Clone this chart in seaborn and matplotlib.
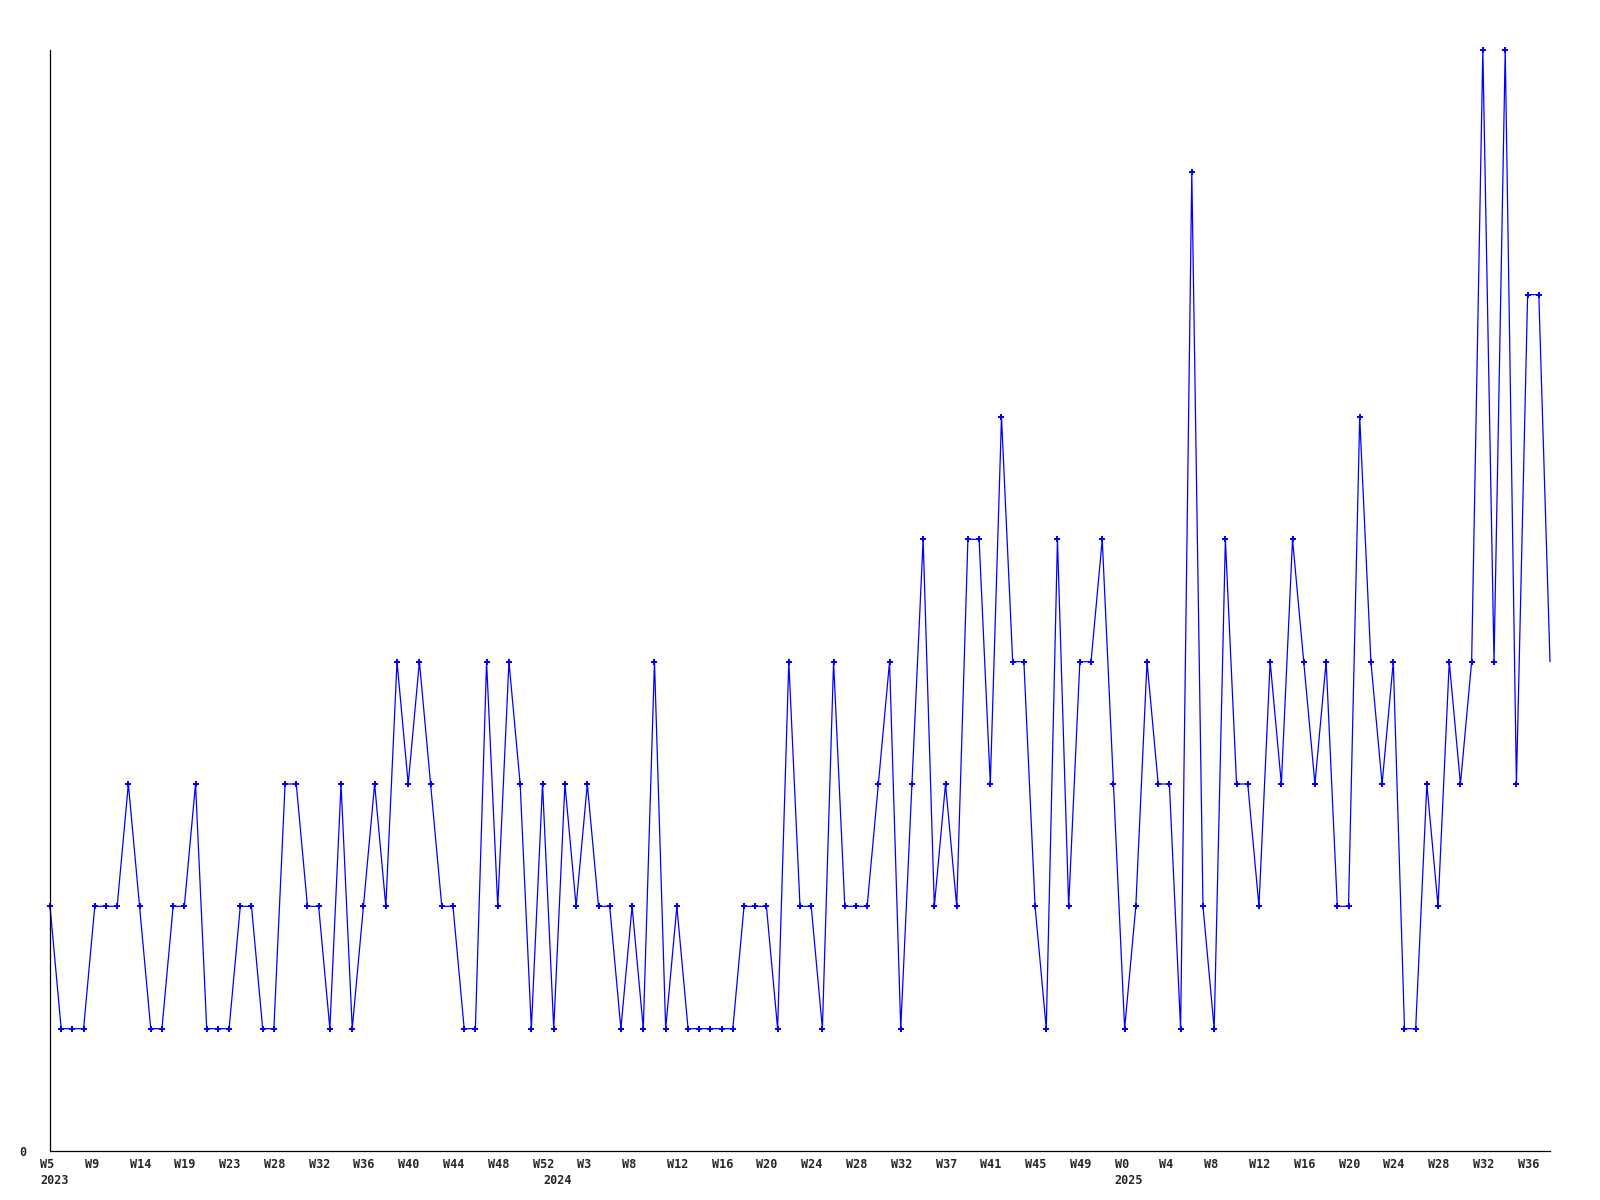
import numpy as np
import matplotlib
matplotlib.use("Agg")
import matplotlib.pyplot as plt
import seaborn as sns

# weekly counts, one point per week
counts = [2, 1, 1, 1, 2, 2, 2, 3, 2, 1, 1, 2, 2, 3, 1, 1, 1, 2, 2, 1,
          1, 3, 3, 2, 2, 1, 3, 1, 2, 3, 2, 4, 3, 4, 3, 2, 2, 1, 1, 4,
          2, 4, 3, 1, 3, 1, 3, 2, 3, 2, 2, 1, 2, 1, 4, 1, 2, 1, 1, 1,
          1, 1, 2, 2, 2, 1, 4, 2, 2, 1, 4, 2, 2, 2, 3, 4, 1, 3, 5, 2,
          3, 2, 5, 5, 3, 6, 4, 4, 2, 1, 5, 2, 4, 4, 5, 3, 1, 2, 4, 3,
          3, 1, 8, 2, 1, 5, 3, 3, 2, 4, 3, 5, 4, 3, 4, 2, 2, 6, 4, 3,
          4, 1, 1, 3, 2, 4, 3, 4, 9, 4, 9, 3, 7, 7, 4]

week_labels = ["W5", "W9", "W14", "W19", "W23", "W28", "W32", "W36", "W40",
               "W44", "W48", "W52", "W3", "W8", "W12", "W16", "W20", "W24",
               "W28", "W32", "W37", "W41", "W45", "W49", "W0", "W4", "W8",
               "W12", "W16", "W20", "W24", "W28", "W32", "W36"]
year_labels = ["2023", "2024", "2025"]
year_pos = [0, 45, 96]

x = np.arange(len(counts))
tick_pos = np.arange(0, len(week_labels) * 4, 4)

sns.set_style("white")
fig = plt.figure(figsize=(16, 12), dpi=100)
ax = fig.add_axes([50 / 1600, 49 / 1200, 1500 / 1600, 1101 / 1200])

# the last (current) week is drawn without a marker
sns.lineplot(x=x, y=counts, ax=ax, color="#0000ff", linewidth=0.9,
             marker="P", markersize=4.2, markeredgewidth=0,
             markerfacecolor="#0000ff", clip_on=False,
             markevery=list(range(len(counts) - 1)))

ax.set_xlim(0, len(counts) - 1)
ax.set_ylim(0, max(counts))

for s in ["top", "right"]:
    ax.spines[s].set_visible(False)
for s in ["left", "bottom"]:
    ax.spines[s].set_color("black")
    ax.spines[s].set_linewidth(0.9)

font = dict(family="DejaVu Sans Mono", weight="bold", size=8.5)

ax.set_xticks([])
ax.set_yticks([0])
ax.set_yticklabels(["0"], fontdict=font)
ax.tick_params(axis="y", length=0, pad=17)

for pos, lab in zip(tick_pos, week_labels):
    ax.annotate(lab, xy=(pos, 0), xycoords=("data", "axes fraction"),
                xytext=(-7.2, -10), textcoords="offset points",
                ha="left", va="center", **font)
for pos, lab in zip(year_pos, year_labels):
    ax.annotate(lab, xy=(pos, 0), xycoords=("data", "axes fraction"),
                xytext=(-7.2, -21.6), textcoords="offset points",
                ha="left", va="center", **font)

ax.set_xlabel("")
ax.set_ylabel("")
fig.savefig("out.png", dpi=100, facecolor="white")
